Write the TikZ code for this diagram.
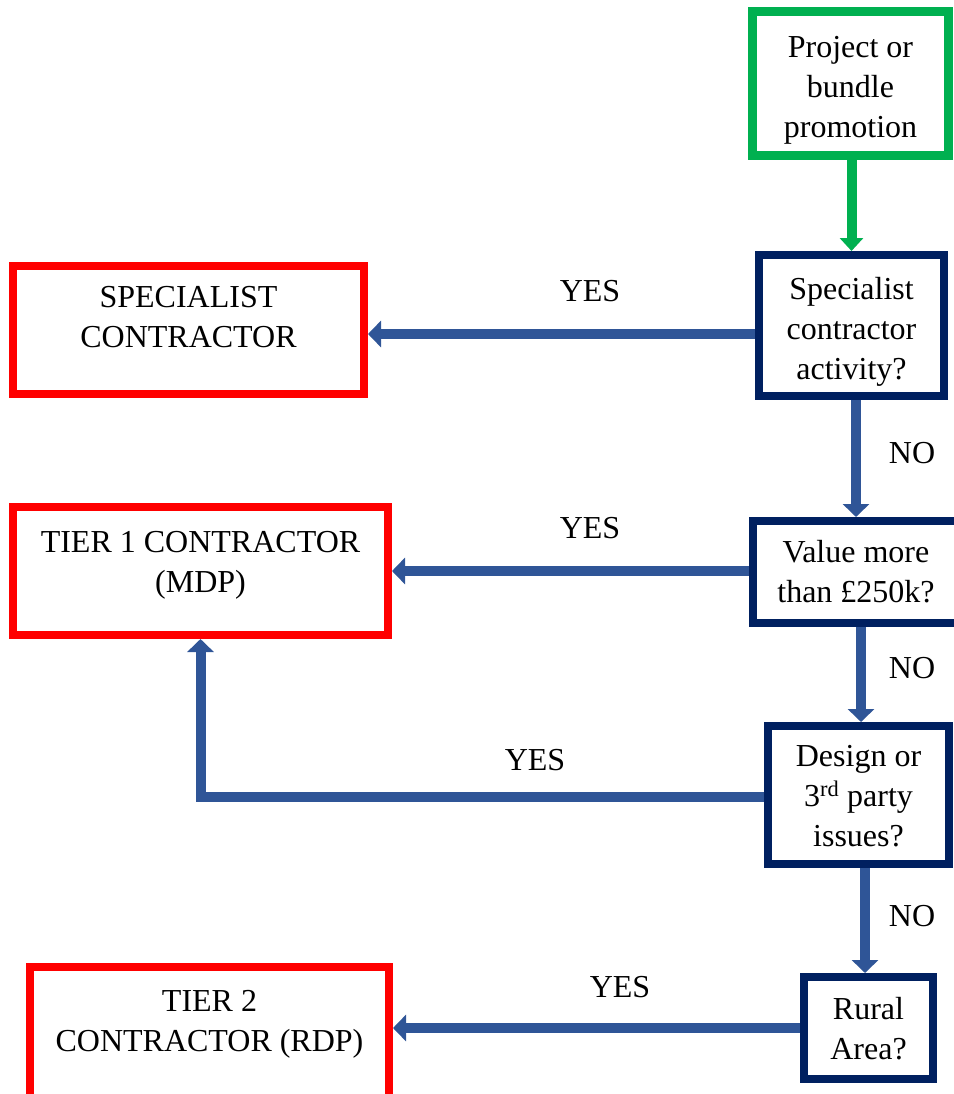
\documentclass[tikz,border=0pt]{standalone}
\usepackage{fontspec}
\setmainfont{Liberation Serif}
\usetikzlibrary{arrows.meta}
\definecolor{navy}{HTML}{002060}
\definecolor{gboxc}{HTML}{00B050}
\definecolor{arrc}{HTML}{2F5597}
\definecolor{redc}{HTML}{FF0000}
\newcommand{\shtext}[2]{\raisebox{#1}[\height][\depth]{\begin{tabular}{@{}c@{}}#2\end{tabular}}}
\tikzset{
  box/.style={draw, rectangle, line width=8pt, inner sep=0pt,
    font=\fontsize{32}{40}\selectfont, fill=white},
  qbox/.style={box, draw=navy},
  rbox/.style={box, draw=redc},
  gbox/.style={box, draw=gboxc, line width=9pt},
  flow/.style={draw=arrc, line width=10pt, -{Triangle[width=26pt,length=13pt]}},
  gflow/.style={draw=gboxc, line width=10pt, -{Triangle[width=23pt,length=13pt]}},
  lbl/.style={inner sep=0pt, font=\fontsize{32}{40}\selectfont}
}
\begin{document}
\begin{tikzpicture}[x=1pt,y=-1pt]
\useasboundingbox (0,0) rectangle (953,1094);
% boxes
\node[gbox, minimum width=196pt, minimum height=144pt] (start) at (850.5,83.5) {\shtext{-6.5pt}{Project or\\bundle\\promotion}};
\node[qbox, minimum width=185pt, minimum height=141pt] (spec) at (851.5,325.5) {\shtext{-6pt}{Specialist\\contractor\\activity?}};
\node[rbox, minimum width=351pt, minimum height=128pt] (specc) at (188.5,330) {\shtext{10.5pt}{SPECIALIST\\CONTRACTOR}};
\node[qbox, minimum width=206pt, minimum height=102pt] (value) at (856,572) {\shtext{-2.5pt}{Value more\\than £250k?}};
\node[rbox, minimum width=375pt, minimum height=128pt] (tier1) at (200.5,571) {\shtext{7pt}{TIER 1 CONTRACTOR\\(MDP)}};
\node[qbox, minimum width=181pt, minimum height=138pt] (design) at (858.5,795) {\shtext{-3pt}{Design or\\3\textsuperscript{rd} party\\issues?}};
\node[qbox, minimum width=129pt, minimum height=102pt] (rural) at (868.5,1028) {\shtext{-3pt}{Rural\\Area?}};
\node[rbox, minimum width=359pt, minimum height=146pt] (tier2) at (209.5,1040) {};
\node[lbl, align=center] (tier2t) at (209.5,1024) {TIER 2\\CONTRACTOR (RDP)};
% connectors
\draw[gflow] ([xshift=1pt]start.south) -- ([xshift=1pt]start.south |- spec.north);
\draw[flow] ([yshift=-8.5pt]spec.west) -- ([yshift=-8.5pt]spec.west -| specc.east);
\draw[flow] (value.north |- spec.south) -- (value.north);
\draw[flow] (value.west |- tier1.east) -- (tier1.east);
\draw[flow] ([xshift=2.5pt]design.north |- value.south) -- ([xshift=2.5pt]design.north);
\draw[flow] ([yshift=-2pt]design.west) -| (tier1.south);
\draw[flow] ([xshift=-3.5pt]rural.north |- design.south) -- ([xshift=-3.5pt]rural.north);
\draw[flow] (rural.west) -- (rural.west -| tier2.east);
% labels
\node[lbl] (y1) at (590,291) {YES};
\node[lbl] (n1) at (912,453) {NO};
\node[lbl] (y2) at (590,528) {YES};
\node[lbl] (n2) at (912,668) {NO};
\node[lbl] (y3) at (535,760) {YES};
\node[lbl] (n3) at (912,916) {NO};
\node[lbl] (y4) at (620,987) {YES};
\end{tikzpicture}
\end{document}
